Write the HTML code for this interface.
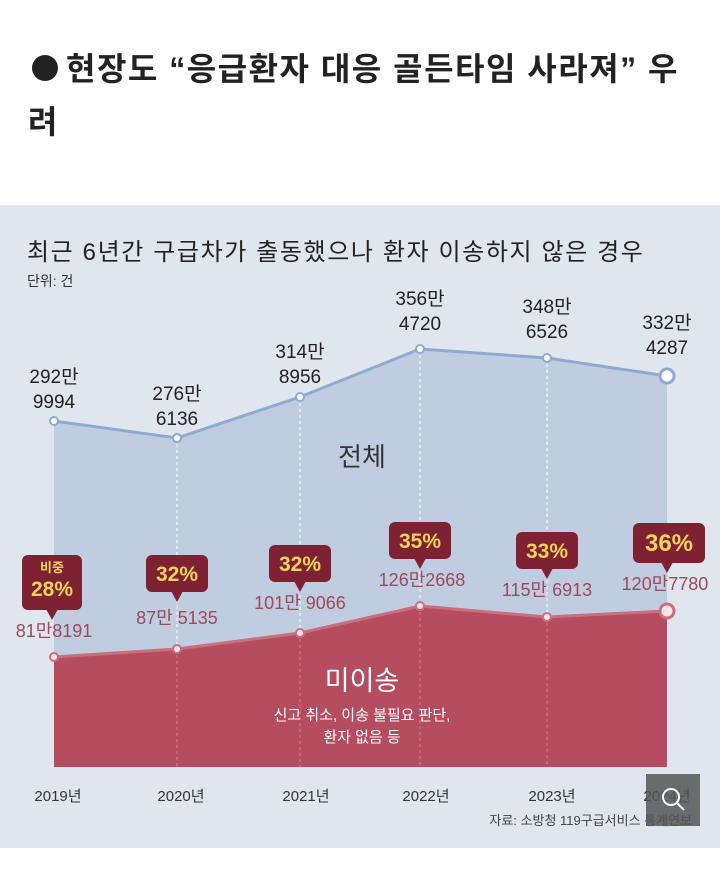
<!DOCTYPE html>
<html><head><meta charset="utf-8"><style>
body{margin:0;width:720px;height:873px;background:#fff;overflow:hidden;font-family:"Liberation Sans","Noto Sans CJK KR",sans-serif;}
svg text{font-family:"Liberation Sans","Noto Sans CJK KR",sans-serif;}
</style></head><body>
<svg width="720" height="873" viewBox="0 0 720 873">
<circle cx="45" cy="68" r="13" fill="#222"/>
<text x="66" y="80" font-size="32" font-weight="bold" fill="#222" letter-spacing="1.5">현장도 “응급환자 대응 골든타임 사라져” 우</text>
<text x="28" y="133" font-size="32" font-weight="bold" fill="#222">려</text>
<rect x="0" y="205" width="720" height="643" fill="#dfe6ee"/>
<text x="27" y="260" font-size="24" fill="#222" letter-spacing="1.6">최근 6년간 구급차가 출동했으나 환자 이송하지 않은 경우</text>
<text x="27" y="286" font-size="14" fill="#333">단위: 건</text>
<polygon points="54,421 177,438 300,397 420,349 547,358 667,376 667,767 54,767" fill="#c0cde0"/>
<polyline points="54,421 177,438 300,397 420,349 547,358 667,376" fill="none" stroke="#8eaad0" stroke-width="3"/>
<g stroke="#fff" stroke-dasharray="3,3" stroke-width="1">
<line x1="177" y1="438" x2="177" y2="767"/><line x1="300" y1="397" x2="300" y2="767"/><line x1="420" y1="349" x2="420" y2="767"/><line x1="547" y1="358" x2="547" y2="767"/></g>
<polygon points="54,657 177,649 300,633 420,606 547,617 667,611 667,767 54,767" fill="#b64c60"/>
<polyline points="54,657 177,649 300,633 420,606 547,617 667,611" fill="none" stroke="#c9707f" stroke-width="3"/>
<g stroke="#d77e8e" stroke-dasharray="3,3" stroke-width="1">
<line x1="177" y1="649" x2="177" y2="767"/><line x1="300" y1="633" x2="300" y2="767"/><line x1="420" y1="606" x2="420" y2="767"/><line x1="547" y1="617" x2="547" y2="767"/></g>
<g fill="#fff" stroke="#8eaad0" stroke-width="2">
<circle cx="54" cy="421" r="4"/><circle cx="177" cy="438" r="4"/><circle cx="300" cy="397" r="4"/><circle cx="420" cy="349" r="4"/><circle cx="547" cy="358" r="4"/><circle cx="667" cy="376" r="7" stroke-width="3"/></g>
<g fill="#f4e4e8" stroke="#c9707f" stroke-width="2">
<circle cx="54" cy="657" r="4"/><circle cx="177" cy="649" r="4"/><circle cx="300" cy="633" r="4"/><circle cx="420" cy="606" r="4"/><circle cx="547" cy="617" r="4"/><circle cx="667" cy="611" r="7" stroke-width="3"/></g>
<g font-size="19" fill="#222" text-anchor="middle">
<text x="54" y="383">292만</text><text x="54" y="408">9994</text>
<text x="177" y="400">276만</text><text x="177" y="425">6136</text>
<text x="300" y="358">314만</text><text x="300" y="383">8956</text>
<text x="420" y="305">356만</text><text x="420" y="330">4720</text>
<text x="547" y="313">348만</text><text x="547" y="338">6526</text>
<text x="667" y="329">332만</text><text x="667" y="354">4287</text>
</g>
<text x="362" y="466" font-size="26" fill="#333" text-anchor="middle">전체</text>
<g fill="#7e2233">
<rect x="22" y="555" width="60" height="55" rx="6"/><polygon points="46,609 58,609 52,620"/>
<rect x="146" y="555" width="62" height="37" rx="6"/><polygon points="171,591 183,591 177,602"/>
<rect x="269" y="545" width="62" height="37" rx="6"/><polygon points="294,581 306,581 300,592"/>
<rect x="389" y="522" width="62" height="37" rx="6"/><polygon points="414,558 426,558 420,569"/>
<rect x="516" y="532" width="62" height="37" rx="6"/><polygon points="541,568 553,568 547,579"/>
<rect x="633" y="523" width="72" height="40" rx="6"/><polygon points="661,562 673,562 667,573"/>
</g>
<g fill="#f5d25a" font-weight="bold" text-anchor="middle">
<text x="52" y="572" font-size="13">비중</text>
<text x="52" y="596" font-size="21">28%</text>
<text x="177" y="581" font-size="21">32%</text>
<text x="300" y="571" font-size="21">32%</text>
<text x="420" y="548" font-size="21">35%</text>
<text x="547" y="558" font-size="21">33%</text>
<text x="669" y="551" font-size="24">36%</text>
</g>
<g font-size="18" fill="#9a4a5a" text-anchor="middle">
<text x="54" y="637">81만8191</text>
<text x="177" y="624">87만 5135</text>
<text x="300" y="609">101만 9066</text>
<text x="422" y="586">126만2668</text>
<text x="547" y="596">115만 6913</text>
<text x="665" y="590">120만7780</text>
</g>
<text x="362" y="690" font-size="27" fill="#fff" text-anchor="middle">미이송</text>
<text x="362" y="720" font-size="15" fill="#fff" text-anchor="middle">신고 취소, 이송 불필요 판단,</text>
<text x="362" y="742" font-size="15" fill="#fff" text-anchor="middle">환자 없음 등</text>
<g font-size="15" fill="#333" text-anchor="middle">
<text x="58" y="801">2019년</text><text x="181" y="801">2020년</text><text x="306" y="801">2021년</text><text x="426" y="801">2022년</text><text x="552" y="801">2023년</text><text x="667" y="801">2024년</text>
</g>
<text x="692" y="825" font-size="13" fill="#444" text-anchor="end">자료: 소방청 119구급서비스 통계연보</text>
<rect x="646" y="774" width="54" height="52" fill="#555" opacity="0.85"/>
<circle cx="671" cy="797" r="8" fill="none" stroke="#fff" stroke-width="2"/>
<line x1="677" y1="803" x2="684" y2="810" stroke="#fff" stroke-width="2"/>
</svg>
</body></html>
